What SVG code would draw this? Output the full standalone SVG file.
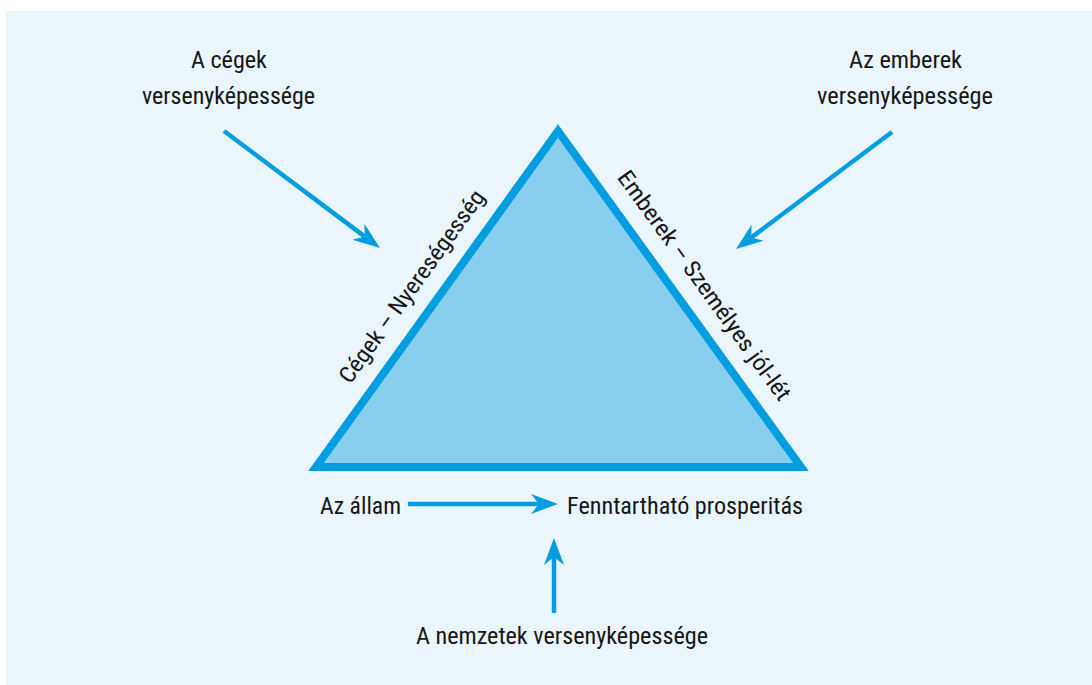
<svg xmlns="http://www.w3.org/2000/svg" width="1092" height="685" viewBox="0 0 1092 685">
<style>
.t{font-family:"Roboto Condensed","Liberation Sans Narrow",Roboto,"Liberation Sans",sans-serif;font-size:23px;fill:#161616;}
.c{text-anchor:middle;}
.conn{stroke:#009EE0;stroke-width:4.5;fill:none;marker-end:url(#ah);}
</style>
<defs>
<marker id="ah" markerUnits="userSpaceOnUse" viewBox="-10 -12 32 24" refX="0" refY="0" markerWidth="32" markerHeight="24" orient="auto">
<path d="M19,0 L-8,-10 L0,0 L-8,10 Z" fill="#009EE0"/>
</marker>
</defs>
<rect x="6" y="11" width="1086" height="674" fill="#EAF5FC"/>
<g id="triangle">
<polygon points="316,467 558,131 801,467" fill="#87CEEF" stroke="#009EE0" stroke-width="8" stroke-linejoin="miter"/>
<text class="t c" transform="translate(418,291) rotate(-54.2)" textLength="232" lengthAdjust="spacingAndGlyphs">Cégek – Nyereségesség</text>
<text class="t c" transform="translate(698,290) rotate(54.1)" textLength="278" lengthAdjust="spacingAndGlyphs">Emberek – Személyes jól-lét</text>
</g>
<g id="node-cegek">
<text class="t c" x="229" y="68" textLength="76" lengthAdjust="spacingAndGlyphs">A cégek</text>
<text class="t c" x="228.5" y="104" textLength="173" lengthAdjust="spacingAndGlyphs">versenyképessége</text>
</g>
<g id="node-emberek">
<text class="t c" x="905.5" y="68" textLength="113" lengthAdjust="spacingAndGlyphs">Az emberek</text>
<text class="t c" x="905" y="104" textLength="176" lengthAdjust="spacingAndGlyphs">versenyképessége</text>
</g>
<g id="node-allam">
<text class="t" x="320" y="514" textLength="81" lengthAdjust="spacingAndGlyphs">Az állam</text>
</g>
<g id="node-prosperitas">
<text class="t" x="567" y="514" textLength="236" lengthAdjust="spacingAndGlyphs">Fenntartható prosperitás</text>
</g>
<g id="node-nemzetek">
<text class="t c" x="562" y="644" textLength="292" lengthAdjust="spacingAndGlyphs">A nemzetek versenyképessége</text>
</g>
<g id="connectors">
<line class="conn" x1="224" y1="131" x2="364.8" y2="236.6"/>
<line class="conn" x1="892" y1="132" x2="751.2" y2="237.6"/>
<line class="conn" x1="408" y1="504" x2="539" y2="504"/>
<line class="conn" x1="554" y1="613" x2="554" y2="557"/>
</g>
</svg>
